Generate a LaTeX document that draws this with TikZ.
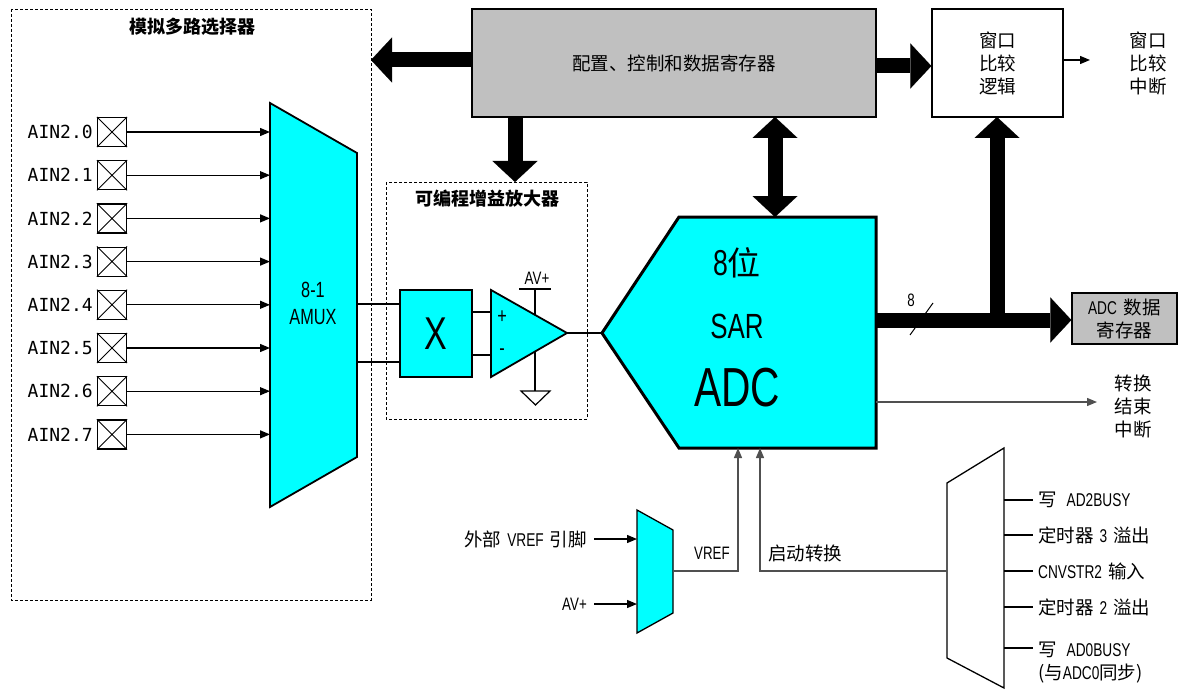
\documentclass[tikz,border=0pt]{standalone}
\usepackage{fontspec}
\setmainfont{Noto Sans CJK SC}
\newfontfamily\lat{Liberation Sans}[FakeStretch=0.74]
\newfontfamily\mono{DejaVu Sans Mono}
\usetikzlibrary{arrows.meta,calc}
\definecolor{cy}{HTML}{00FFFF}
\definecolor{gr}{HTML}{C0C0C0}
\definecolor{dg}{HTML}{505050}
\begin{document}
\begin{tikzpicture}[x=1pt,y=-1pt,
  txt/.style={font=\fontsize{18.5}{23}\selectfont, inner sep=0pt, align=center},
  ttl/.style={font=\fontsize{18}{22}\selectfont\bfseries, inner sep=0pt},
  thinl/.style={line width=1.3pt},
  arr/.style={line width=1.3pt,-{Triangle[length=10pt,width=8pt]}},
  bus/.style={line width=15pt,-{Triangle[length=21pt,width=45pt,line width=0.1pt]}},
  busb/.style={line width=15pt,{Triangle[length=21pt,width=45pt,line width=0.1pt]}-{Triangle[length=21pt,width=45pt,line width=0.1pt]}},
  dbox/.style={draw, densely dashed, line width=0.8pt},
  shp/.style={draw, fill=cy, line width=1.8pt, line join=miter},
]
\useasboundingbox (0,0) rectangle (1178,690);

% ---------- analog multiplexer block ----------
\draw[dbox] (11,9) rectangle (371,600);
\node[ttl] (t1) at (192,27) {模拟多路选择器};
\draw[shp] (270,103) coordinate (m1) -- (357,153) -- (357,457) -- (270,507) -- cycle;
\node[font=\lat\fontsize{22}{24}\selectfont, inner sep=0pt] (m81) at (313,290) {8-1};
\node[font=\lat\fontsize{22}{24}\selectfont, inner sep=0pt] (mam) at (313,317) {AMUX};
\foreach \i in {0,...,7}{
  \pgfmathsetmacro{\yy}{132+43.2*\i}
  \node[draw, line width=1.2pt, minimum size=29pt, inner sep=0pt] (p\i) at (112,\yy) {};
  \draw[line width=0.9pt] (p\i.north west) -- (p\i.south east) (p\i.north east) -- (p\i.south west);
  \node[anchor=east, inner sep=0pt, font=\mono\fontsize{18}{20}\selectfont] (l\i) at ([xshift=-4pt]p\i.west) {AIN2.\i};
  \coordinate (mi\i) at (270,\yy);
  \draw[arr] (p\i.east) -- (mi\i);
}

% ---------- PGA ----------
\draw[dbox] (386,182) rectangle (587,419);
\node[ttl] (t2) at (487,199) {可编程增益放大器};
\node[shp, line width=2pt, minimum width=72pt, minimum height=87pt, inner sep=0pt] (xb) at (436,333.5) {};
\node[font=\lat\fontsize{46}{46}\selectfont, inner sep=0pt] (xl) at (xb) {X};
\draw[thinl] (357,304) -- (357,304 -| xb.west);
\draw[thinl] (357,362) -- (357,362 -| xb.west);
\draw[shp] (491,290) coordinate (oa1) -- (567,333) coordinate (oaout) -- (491,377) coordinate (oa2) -- cycle;
\draw[thinl] (472,312) -- (491,312);
\draw[thinl] (472,355) -- (491,355);
\node[font=\lat\fontsize{22}{22}\selectfont, inner sep=0pt] (plus) at (502,317) {+};
\node[font=\lat\fontsize{22}{22}\selectfont, inner sep=0pt] (minus) at (502,352) {-};
\draw[thinl] (519,289) -- (551,289);
\draw[thinl] (535,289) -- (535,315);
\draw[thinl] (535,352) -- (535,391);
\draw[line width=1.2pt] (521,391) -- (550,391) -- (535.5,405) -- cycle;
\node[font=\lat\fontsize{18}{18}\selectfont, inner sep=0pt] (avp) at (537,278) {AV+};

% ---------- register block ----------
\node[draw, fill=gr, line width=1.3pt, minimum width=404pt, minimum height=108pt, inner sep=0pt] (reg) at (674,63) {};
\node[txt] (regt) at (reg) {配置、控制和数据寄存器};
\draw[bus] (472,60) -- (371,60);
\draw[bus] (515,117) -- (515,182);
\draw[busb] (775,117) -- (775,217);

% ---------- window comparator ----------
\node[draw, line width=1.3pt, minimum width=131pt, minimum height=108pt, inner sep=0pt] (win) at (997.5,63) {};
\node[txt] (wint) at (win) {窗口\\比较\\逻辑};
\draw[bus] (876,66) -- (win.west |- 0,66);
\draw[arr] (win.east |- 0,60) -- (1090,60);
\node[txt] (wirq) at (1148,63) {窗口\\比较\\中断};

% ---------- ADC ----------
\draw[shp, line width=3pt] (602,333) coordinate (adcin) -- (679,217) -- (876,217) -- (876,448) -- (679,448) -- cycle;
\draw[thinl] (oaout) -- (adcin);
\node[inner sep=0pt] (a1) at (737,263) {{\lat\fontsize{36}{36}\selectfont 8}{\fontsize{33}{36}\selectfont 位}};
\node[font=\lat\fontsize{35}{35}\selectfont, inner sep=0pt] (a2) at (737,326) {SAR};
\node[font=\lat\fontsize{55}{55}\selectfont, inner sep=0pt] (a3) at (737,388) {ADC};

% data bus
\node[draw, fill=gr, line width=1.3pt, minimum width=105pt, minimum height=51pt, inner sep=0pt] (dreg) at (1124.5,318.5) {};
\node[txt] (dregt) at (dreg) {{\lat ADC}\hspace{7pt}数据\\寄存器};
\draw[bus] (876,320) -- (dreg.west |- 0,320);
\draw[bus] (997,327) -- (997,117);
\draw[line width=1pt] (910,335) -- (933,303);
\node[font=\lat\fontsize{18}{18}\selectfont, inner sep=0pt] (n8) at (911,300) {8};

% end of conversion
\draw[arr, dg] (876,402) -- (1097,402);
\node[txt] (eoc) at (1133,406) {转换\\结束\\中断};

% ---------- VREF mux ----------
\draw[shp, line width=1.3pt] (637,510) -- (673,530) -- (673,613) -- (637,633) -- cycle;
\coordinate (vi1) at (637,539);
\coordinate (vi2) at (637,604);
\node[txt, anchor=east] (vx) at (587,539) {外部\hspace{6pt}{\lat VREF}\hspace{6pt}引脚};
\node[txt, anchor=east, font=\lat\fontsize{18}{18}\selectfont] (va) at (587,604) {AV+};
\draw[arr] (594,539) -- (vi1);
\draw[arr] (594,604) -- (vi2);
\draw[arr, dg] (673,571) -- (738,571) -- (738,448);
\node[txt, font=\lat\fontsize{18}{18}\selectfont] (vrl) at (712,553) {VREF};

% ---------- start of conversion mux ----------
\draw[line width=1.3pt] (947,483) -- (1004,448) -- (1004,688) -- (947,658) -- cycle;
\draw[arr, dg] (947,571) -- (760,571) -- (760,448);
\node[txt] (scl) at (805,553) {启动转换};
\foreach \yy/\lab in {500/{写\hspace{10pt}{\lat AD2BUSY}}, 535/{定时器\hspace{6pt}{\lat 3}\hspace{6pt}溢出}, 571/{{\lat CNVSTR2}\hspace{6pt}输入}, 607/{定时器\hspace{6pt}{\lat 2}\hspace{6pt}溢出}}{
  \draw[thinl] (1004,\yy) -- (1033,\yy);
  \node[txt, anchor=west] at (1038,\yy) {\lab};
}
\draw[thinl] (1004,648) -- (1033,648);
\node[txt, anchor=north west, align=left] (s5) at (1038,642) {写\hspace{10pt}{\lat AD0BUSY}\\(与{\lat ADC0}同步)};
\end{tikzpicture}
\end{document}
